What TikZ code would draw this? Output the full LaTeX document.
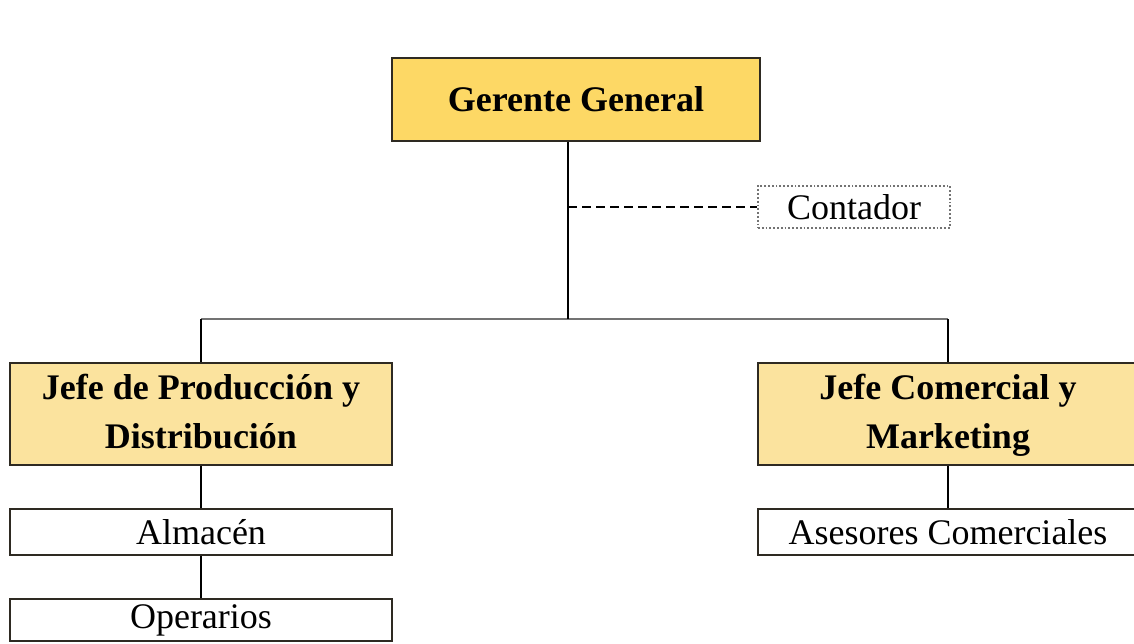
\documentclass[tikz,border=0pt]{standalone}
\usepackage{fontspec}
\setmainfont{Liberation Serif}
\definecolor{topfill}{HTML}{FDD865}
\definecolor{midfill}{HTML}{FBE39E}
\definecolor{edge}{HTML}{2E2A22}
\begin{document}
\begin{tikzpicture}[x=1pt,y=-1pt,
  box/.style={draw=edge,line width=1.8pt,rectangle,inner sep=0pt,align=center,
    font=\fontsize{36}{49}\selectfont},
  boldbox/.style={box,font=\fontsize{36}{49}\selectfont\bfseries},
  dotbox/.style={draw=black!55,line width=1.8pt,dotted,rectangle,inner sep=0pt,
    font=\fontsize{36}{44}\selectfont},
  conn/.style={draw=black,line width=2pt},
  bar/.style={draw=black!55,line width=2.5pt},
  dashconn/.style={draw=black,line width=2pt,dash pattern=on 9pt off 5pt}]
\useasboundingbox (0,0) rectangle (1134,643);
\fill[white] (0,0) rectangle (1134,643);
\node[boldbox,fill=topfill,minimum width=368pt,minimum height=83pt] (gg) at (576,99.5) {Gerente General};
\node[dotbox,minimum width=192pt,minimum height=42pt] (cont) at (854,207) {Contador};
\node[boldbox,fill=midfill,minimum width=382pt,minimum height=102pt] (jpd) at (201,414) {\strut Jefe de Producción y\\\strut Distribución};
\node[boldbox,fill=midfill,minimum width=380pt,minimum height=102pt] (jcm) at (948,414) {\strut Jefe Comercial y\\\strut Marketing};
\node[box,minimum width=382pt,minimum height=46pt] (alm) at (201,532) {Almacén};
\node[box,minimum width=382pt,minimum height=42pt] (ope) at (201,620) {Operarios};
\node[box,minimum width=380pt,minimum height=46pt] (ase) at (948,532) {Asesores Comerciales};
\coordinate (hub) at (568,319);
\draw[bar] (jpd.north |- hub) -- (jcm.north |- hub);
\draw[conn] (gg.south -| hub) -- (hub);
\draw[dashconn] (cont.west -| hub) -- (cont.west);
\draw[conn] (jpd.north |- hub) -- (jpd.north);
\draw[conn] (jcm.north |- hub) -- (jcm.north);
\draw[conn] (jpd.south) -- (alm.north);
\draw[conn] (alm.south) -- (ope.north);
\draw[conn] (jcm.south) -- (ase.north);
\end{tikzpicture}
\end{document}
